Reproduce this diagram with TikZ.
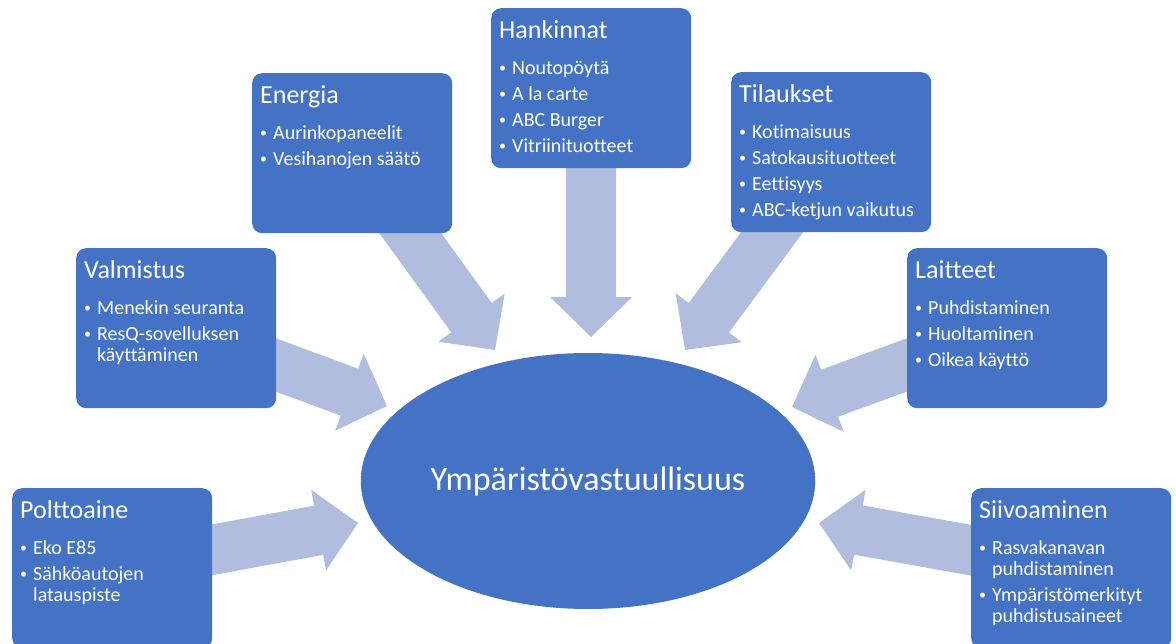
\documentclass[tikz,border=0pt]{standalone}
\usepackage{fontspec}
\setmainfont[Ligatures=NoCommon]{Carlito}
\usetikzlibrary{shapes.geometric,calc,backgrounds}

\definecolor{boxblue}{RGB}{68,114,196}
\definecolor{arrowblue}{RGB}{176,189,222}

\newcommand{\boxcontent}[2]{\parbox[t][144pt][t]{184pt}{\raggedright
  \fontsize{26}{26}\selectfont\rule{0pt}{22pt}#1\par\vspace{10pt}
  \fontsize{20}{21}\selectfont\parskip=5pt #2}}
\newcommand{\point}[1]{\par\hangindent=13pt\hangafter=1\noindent
  \makebox[13pt][l]{\raisebox{1.5pt}{\fontsize{14}{14}\selectfont •}}#1}

% broad arrow from a box centre to its tip
\newcommand{\bigarrow}[2]{%
  \coordinate (head) at ($(#2)!40pt!(#1)$);
  \fill[arrowblue] ($(#1)!25pt!90:(#2)$) -- ($(head)!25pt!90:(#2)$)
    -- ($(head)!41pt!90:(#2)$) -- (#2) -- ($(head)!41pt!-90:(#2)$)
    -- ($(head)!25pt!-90:(#2)$) -- ($(#1)!25pt!-90:(#2)$) -- cycle;
}

\begin{document}
\begin{tikzpicture}[x=1pt, y=-1pt,
  box/.style={shape=rectangle, rounded corners=10pt, fill=boxblue, text=white,
    inner sep=8pt, anchor=north west},
  hub/.style={shape=ellipse, fill=boxblue, text=white, minimum width=450pt,
    minimum height=256pt, font=\fontsize{34}{34}\selectfont}]
\useasboundingbox (0,0) rectangle (1176,643);

\node (Ymparisto) at (588,481) [hub] {Ympäristövastuullisuus};

\node (Polttoaine) at (12,488) [box] {\boxcontent{Polttoaine}{\point{Eko E85}\point{Sähköautojen latauspiste}}};

\node (Valmistus) at (76,248) [box] {\boxcontent{Valmistus}{\point{Menekin seuranta}\point{ResQ-sovelluksen käyttäminen}}};

\node (Energia) at (252,73) [box] {\boxcontent{Energia}{\point{Aurinkopaneelit}\point{Vesihanojen säätö}}};

\node (Hankinnat) at (491,8) [box] {\boxcontent{Hankinnat}{\point{Noutopöytä}\point{A la carte}\point{ABC Burger}\point{Vitriinituotteet}}};

\node (Tilaukset) at (731,72) [box] {\boxcontent{Tilaukset}{\point{Kotimaisuus}\point{Satokausituotteet}\point{Eettisyys}\point{ABC-ketjun vaikutus}}};

\node (Laitteet) at (907,248) [box] {\boxcontent{Laitteet}{\point{Puhdistaminen}\point{Huoltaminen}\point{Oikea käyttö}}};

\node (Siivoaminen) at (971,488) [box] {\boxcontent{Siivoaminen}{\point{Rasvakanavan puhdistaminen}\point{Ympäristömerkityt puhdistusaineet}}};

\coordinate (Polttoaine tip) at (358,523);
\coordinate (Valmistus tip) at (387,406);
\coordinate (Energia tip) at (495,350);
\coordinate (Hankinnat tip) at (591,337);
\coordinate (Tilaukset tip) at (685,350);
\coordinate (Laitteet tip) at (792,407);
\coordinate (Siivoaminen tip) at (819,523);

\begin{scope}[on background layer]
\bigarrow{Polttoaine.center}{Polttoaine tip}
\bigarrow{Valmistus.center}{Valmistus tip}
\bigarrow{Energia.center}{Energia tip}
\bigarrow{Hankinnat.center}{Hankinnat tip}
\bigarrow{Tilaukset.center}{Tilaukset tip}
\bigarrow{Laitteet.center}{Laitteet tip}
\bigarrow{Siivoaminen.center}{Siivoaminen tip}
\end{scope}
\end{tikzpicture}
\end{document}
